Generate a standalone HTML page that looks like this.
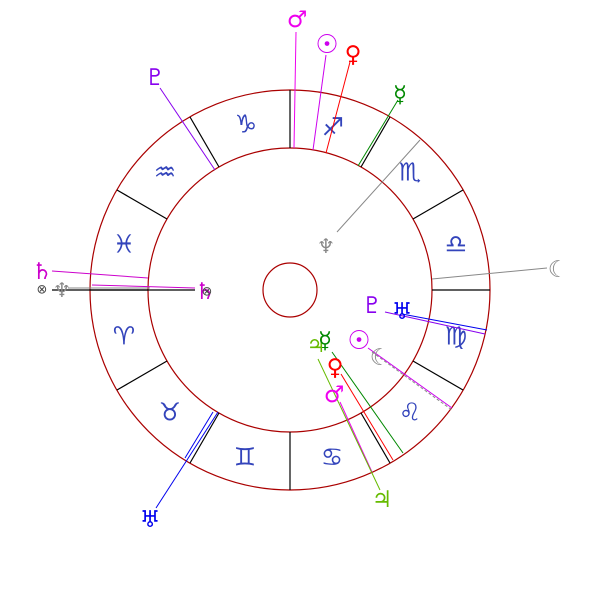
<!DOCTYPE html><html><head><style>body{margin:0;background:#fff}svg{display:block}text{font-family:"DejaVu Sans",sans-serif;text-anchor:middle;dominant-baseline:central}</style></head><body>
<svg width="600" height="600" viewBox="0 0 600 600">
<g fill="none" stroke="#aa0000" stroke-width="1.2">
<circle cx="290" cy="290" r="200"/><circle cx="290" cy="290" r="142"/><circle cx="290" cy="290" r="27"/>
</g>
<g stroke="#000" stroke-width="1.2">
<line x1="432" y1="290" x2="490" y2="290"/><line x1="413" y1="219" x2="463" y2="190"/><line x1="361" y1="167" x2="390" y2="117"/>
<line x1="290" y1="148" x2="290" y2="90"/><line x1="219" y1="167" x2="190" y2="117"/><line x1="167" y1="219" x2="117" y2="190"/>
<line x1="148" y1="290" x2="90" y2="290"/><line x1="167" y1="361" x2="117" y2="390"/><line x1="219" y1="413" x2="190" y2="463"/>
<line x1="290" y1="432" x2="290" y2="490"/><line x1="361" y1="413" x2="390" y2="463"/><line x1="413" y1="361" x2="463" y2="390"/>
<line x1="52" y1="290" x2="195" y2="290"/>
</g>
<g fill="#3344bb" font-size="25">
<text x="246" y="124">♑</text><text x="165" y="172">♒</text><text x="124" y="244">♓</text><text x="124" y="336">♈</text>
<text x="170" y="412">♉</text><text x="245" y="457">♊</text><text x="332" y="457">♋</text><text x="410" y="412">♌</text>
<text x="456" y="336">♍</text><text x="456" y="244">♎</text><text x="410" y="172">♏</text><text x="333" y="127">♐</text>
</g>
<g stroke-width="1">
<line x1="296" y1="32" x2="294" y2="148" stroke="#ee00ee"/>
<line x1="326" y1="55" x2="313" y2="150" stroke="#cc00ee"/>
<line x1="350" y1="62" x2="326" y2="153" stroke="#ff0000"/>
<line x1="398" y1="100" x2="358" y2="166" stroke="#008800"/>
<line x1="160" y1="88" x2="215" y2="170" stroke="#8800ee"/>
<line x1="420" y1="140" x2="337" y2="232" stroke="#888"/>
<line x1="547" y1="268" x2="432" y2="279" stroke="#888"/>
<line x1="385" y1="312" x2="485" y2="334" stroke="#8800ee"/>
<line x1="402" y1="314" x2="487" y2="330" stroke="#0000ee"/>
<line x1="368" y1="348" x2="452" y2="408" stroke="#cc00ee"/>
<line x1="372" y1="352" x2="452" y2="410" stroke="#888" stroke-dasharray="3,2"/>
<line x1="332" y1="352" x2="403" y2="453" stroke="#008800"/>
<line x1="341" y1="374" x2="393" y2="460" stroke="#ff0000"/>
<line x1="340" y1="402" x2="372" y2="472" stroke="#ee00ee"/>
<line x1="318" y1="359" x2="380" y2="490" stroke="#66bb00"/>
<line x1="52" y1="271" x2="148" y2="278" stroke="#cc00cc"/>
<line x1="92" y1="285" x2="195" y2="288" stroke="#cc00cc"/>
<line x1="68" y1="288" x2="150" y2="288" stroke="#888"/>
<line x1="156" y1="508" x2="218" y2="412" stroke="#0000ee"/>
<line x1="213" y1="412" x2="185" y2="458" stroke="#0000ee"/>
</g>
<g font-size="23">
<text x="297" y="20" fill="#ee00ee">♂</text><text x="327" y="45" fill="#cc00ee" font-size="26">☉</text><text x="353" y="55" fill="#ff0000">♀</text>
<text x="400" y="95" fill="#008800">☿</text><text x="155" y="78" fill="#8800ee">♇</text><text x="326" y="246" fill="#888" font-size="20">♆</text>
<text x="558" y="270" fill="#888">☾</text><text x="372" y="306" fill="#8800ee">♇</text><text x="402" y="312" fill="#0000ee">♅</text>
<text x="359" y="341" fill="#cc00ee" font-size="26">☉</text><text x="380" y="358" fill="#888">☾</text>
<text x="316" y="345" fill="#66bb00" font-size="21">♃</text><text x="325" y="341" fill="#008800">☿</text>
<text x="335" y="368" fill="#ff0000">♀</text><text x="334" y="395" fill="#ee00ee">♂</text><text x="382" y="500" fill="#66bb00">♃</text>
<text x="42" y="272" fill="#cc00cc">♄</text><text x="205" y="292" fill="#cc00cc">♄</text>
<text x="42" y="290" fill="#444" font-size="13">⊗</text><text x="207" y="292" fill="#444" font-size="13">⊗</text>
<text x="62" y="290" fill="#888" font-size="20">♆</text><text x="150" y="520" fill="#0000ee">♅</text>
</g>
</svg></body></html>
